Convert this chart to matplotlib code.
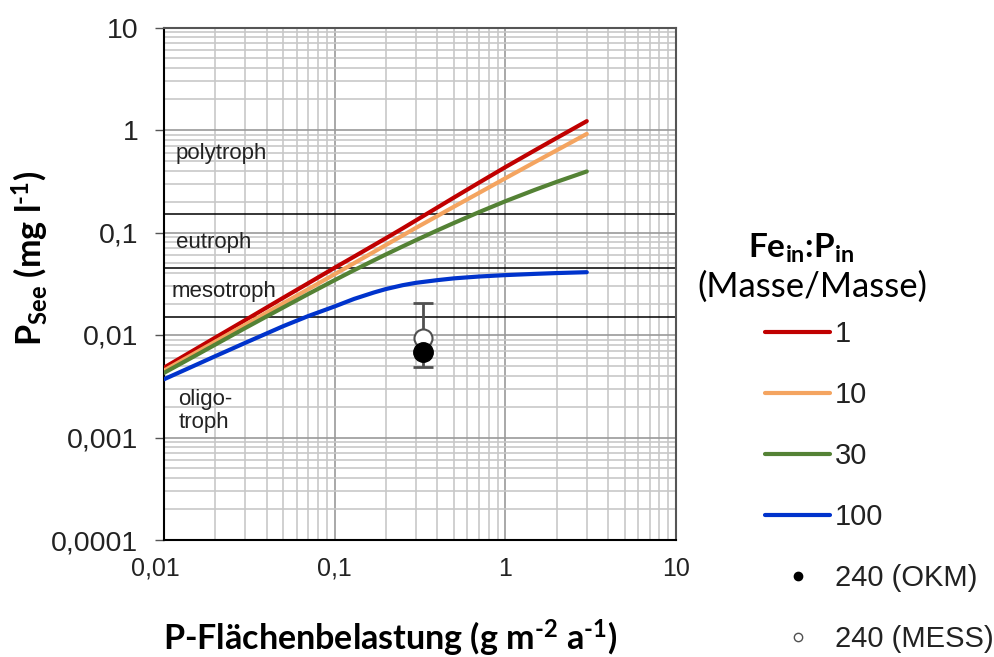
import matplotlib
matplotlib.use("Agg")
import matplotlib.pyplot as plt
from matplotlib.lines import Line2D
from matplotlib.transforms import ScaledTranslation

# All math-mode pieces (sub/superscripts) are set in bold Lato
plt.rcParams["mathtext.fontset"] = "custom"
plt.rcParams["mathtext.rm"] = "Lato:bold"
plt.rcParams["mathtext.bf"] = "Lato:bold"
plt.rcParams["mathtext.it"] = "Lato:bold"

# P surface load (g m^-2 a^-1)
p_load = [0.01, 0.015, 0.02, 0.03, 0.05, 0.07, 0.1, 0.13, 0.17, 0.2,
          0.25, 0.3, 0.4, 0.5, 0.7, 1, 1.5, 2, 3]

# Lake P concentration (mg/l) for different Fe_in:P_in ratios
p_see_fe1 = [0.0048, 0.00713, 0.00944, 0.0140, 0.0231, 0.0320, 0.0453, 0.0582, 0.0754, 0.0881,
             0.1096, 0.1315, 0.1754, 0.2193, 0.306, 0.434, 0.638, 0.836, 1.22]
p_see_fe10 = [0.0045, 0.00658, 0.00863, 0.01263, 0.0204, 0.0280, 0.0392, 0.0502, 0.0648, 0.0757,
              0.0935, 0.1112, 0.145, 0.1786, 0.243, 0.338, 0.489, 0.634, 0.916]
p_see_fe30 = [0.00427, 0.00619, 0.00807, 0.01172, 0.01858, 0.0251, 0.0343, 0.0429, 0.0536, 0.0612,
              0.0731, 0.0843, 0.105, 0.1239, 0.1578, 0.2018, 0.2618, 0.312, 0.394]
p_see_fe100 = [0.0037, 0.00501, 0.00622, 0.0084, 0.0122, 0.0153, 0.0190, 0.0225, 0.0260, 0.0281,
               0.0306, 0.0323, 0.0343, 0.0357, 0.0372, 0.0384, 0.0395, 0.0402, 0.0410]

ratio_labels = ["1", "10", "30", "100"]
ratio_colors = ["#c00000", "#f4a460", "#548235", "#0033cc"]

# Measured lake (Fe:P = 240)
lake_load = 0.33
okm_value = 0.0069
mess_value = 0.0094
mess_low = 0.0049
mess_high = 0.0207

# Trophic class boundaries (mg/l)
trophic_bounds = [0.015, 0.045, 0.15]
trophic_names = ["polytroph", "eutroph", "mesotroph", "oligo-\ntroph"]
trophic_text_x = [0.01175, 0.01175, 0.0111, 0.0121]
trophic_text_y = [0.585, 0.0795, 0.0264, 0.00181]

y_ticks = [0.0001, 0.001, 0.01, 0.1, 1, 10]
y_ticklabels = ["0,0001", "0,001", "0,01", "0,1", "1", "10"]
x_ticks = [0.01, 0.1, 1, 10]
x_ticklabels = ["0,01", "0,1", "1", "10"]

fig = plt.figure(figsize=(9.95, 6.57), dpi=100)
ax = fig.add_axes([164 / 995, 1 - 540 / 657, 512 / 995, 512.5 / 657])
ax.set_xscale("log")
ax.set_yscale("log")
ax.set_xlim(0.01, 10)
ax.set_ylim(0.0001, 10)

ax.grid(True, which="minor", color="#c8c8c8", lw=1.2, zorder=0)
ax.grid(True, which="major", color="#9a9a9a", lw=1.2, zorder=0)
ax.set_axisbelow(True)

for b in trophic_bounds:
    ax.axhline(b, color="black", lw=1.1, zorder=1)

series = [p_see_fe1, p_see_fe10, p_see_fe30, p_see_fe100]
handles = []
for vals, lab, col in zip(series, ratio_labels, ratio_colors):
    ln, = ax.plot(p_load, vals, color=col, lw=3, solid_capstyle="round",
                  solid_joinstyle="round", zorder=3, label=lab)
    handles.append(ln)

ax.errorbar([lake_load], [mess_value],
            yerr=[[mess_value - mess_low], [mess_high - mess_value]],
            fmt="none", ecolor="#505050", elinewidth=2, capsize=7, capthick=2, zorder=4)
ax.plot([lake_load], [mess_value], "o", ms=13, mfc="white", mec="#505050", mew=1.5, zorder=5)
ax.plot([lake_load], [okm_value], "o", ms=14, mfc="black", mec="black", zorder=6)

for name, tx, ty in zip(trophic_names, trophic_text_x, trophic_text_y):
    ax.text(tx, ty, name, fontsize=16, family="Liberation Sans", color="#222222",
            va="center", ha="left", linespacing=1.13, zorder=2)

ax.set_yticks(y_ticks)
ax.set_yticklabels(y_ticklabels)
ax.set_xticks(x_ticks)
ax.set_xticklabels(x_ticklabels)
ax.tick_params(axis="y", which="major", length=6.5, width=1, pad=12,
               labelsize=20.5, colors="#555555", labelcolor="#222222")
ax.tick_params(axis="x", which="major", length=0, pad=12, labelsize=18, labelcolor="#222222")
ax.tick_params(which="minor", length=0)
for lbl in ax.get_xticklabels() + ax.get_yticklabels():
    lbl.set_family("Liberation Sans")

# the first x label sits a little left of its tick
first_x = ax.xaxis.get_major_ticks()[0].label1
first_x.set_transform(first_x.get_transform() + ScaledTranslation(-9 / 100, 0, fig.dpi_scale_trans))

ax.spines["left"].set_color("black")
ax.spines["bottom"].set_color("black")
ax.spines["left"].set_linewidth(1.5)
ax.spines["bottom"].set_linewidth(1.5)
ax.spines["top"].set_color("#555555")
ax.spines["right"].set_color("#555555")
ax.spines["top"].set_linewidth(1.5)
ax.spines["right"].set_linewidth(1.5)

fig.text(30 / 995, 1 - 258 / 657, r"P$_{\mathrm{See}}$ (mg l$^{\text{-1}}$)", rotation=90,
         fontsize=24.5, fontweight="bold", family="Lato", ha="center", va="center")
fig.text(390 / 995, 1 - 638 / 657, r"P-Flächenbelastung (g m$^{\text{-2}}$ a$^{\text{-1}}$)",
         fontsize=24.5, fontweight="bold", family="Lato", ha="center", va="center")

fig.text(801 / 995, 1 - 248 / 657, r"Fe$_{\mathrm{in}}$:P$_{\mathrm{in}}$",
         fontsize=24, fontweight="bold", family="Lato", ha="center", va="center")
fig.text(812 / 995, 1 - 287 / 657, "(Masse/Masse)",
         fontsize=25, family="Lato", ha="center", va="center")

okm_handle = Line2D([], [], ls="none", marker="o", ms=6, mfc="black", mec="black")
mess_handle = Line2D([], [], ls="none", marker="o", ms=6, mfc="white", mec="#505050", mew=1)
leg = fig.legend(handles + [okm_handle, mess_handle],
                 ratio_labels + ["240 (OKM)", "240 (MESS)"],
                 loc="upper left", bbox_to_anchor=(765 / 995, 1 - 320 / 657),
                 frameon=False, borderpad=0, borderaxespad=0,
                 handlelength=2.23, handletextpad=0.17,
                 labelspacing=1.13, prop={"family": "Liberation Sans", "size": 21})
for t in leg.get_texts():
    t.set_color("#222222")

fig.savefig("out.png", dpi=100)
